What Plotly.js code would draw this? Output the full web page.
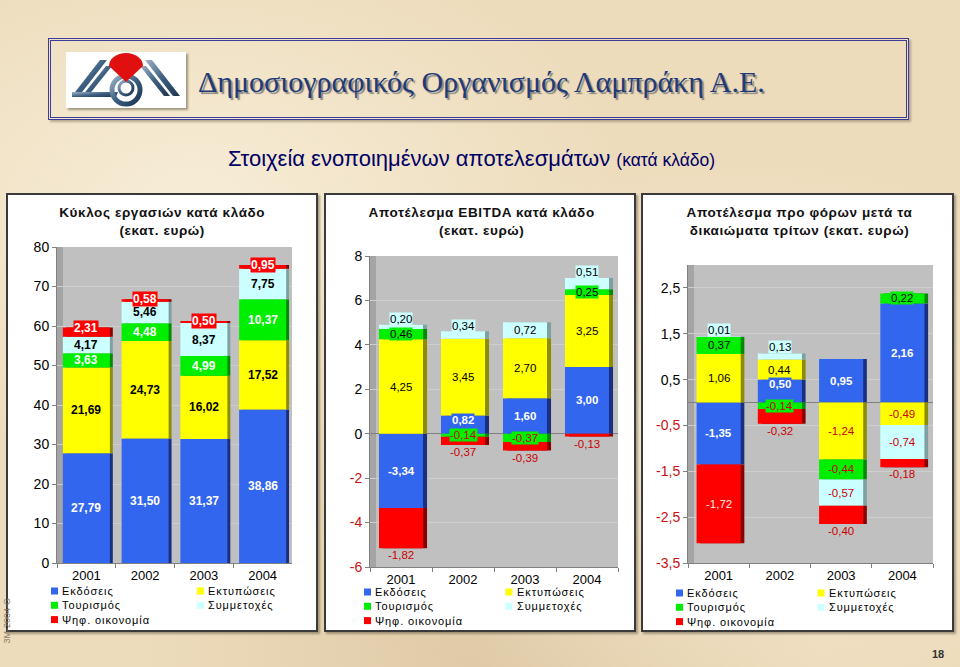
<html lang="el">
  <head>
    <meta charset="UTF-8" />
    <title>ΔΟΛ - Στοιχεία ενοποιημένων αποτελεσμάτων</title>
    <script src="https://cdn.plot.ly/plotly-3.0.1.min.js"></script>
    <style>
      body { margin: 0; }
      #page {
        position: relative; width: 960px; height: 667px; overflow: hidden;
        background-color: #eddcbc;
        background-image:
          radial-gradient(ellipse at 20% 30%, rgba(255,250,235,0.55), rgba(255,250,235,0) 40%),
          radial-gradient(ellipse at 75% 65%, rgba(255,248,230,0.5), rgba(255,248,230,0) 45%),
          radial-gradient(ellipse at 50% 95%, rgba(205,180,140,0.45), rgba(205,180,140,0) 50%);
        font-family: Arial, "Liberation Sans", sans-serif;
      }
      #head {
        position: absolute; left: 48px; top: 38px; width: 855px; height: 76px;
        border: 3px double #3b3b9c; box-shadow: 2px 2px 2px rgba(90,80,60,0.4);
      }
      #logo { position: absolute; left: 15px; top: 11px; box-shadow: 2px 2px 2px rgba(80,70,50,0.5); }
      #title {
        position: absolute; left: 147px; top: 24px; white-space: nowrap;
        font-family: "Liberation Serif", "DejaVu Serif", serif; font-size: 30px;
        color: #213a78; text-shadow: 2px 2px 1px rgba(110,110,110,0.8);
      }
      #sub { position: absolute; left: 228px; top: 146px; color: #000066; font-size: 22px; white-space: nowrap; }
      #sub small { font-size: 17.5px; }
      .panel {
        position: absolute; top: 193px; height: 435px; background: #fff;
        border: 2px solid #3a3a3a; box-shadow: 2px 2px 2px rgba(80,70,50,0.45);
      }
      #chart { position: absolute; left: 0; top: 0; width: 960px; height: 667px; }
      /* the slide's chart titles and legends are letter-spaced */
      #chart text[style*="lgspace"] { letter-spacing: 0.9px; }
      #chart text[style*="ttlspace"] { letter-spacing: 0.6px; }
      #stamp {
        position: absolute; left: 2px; top: 598px; writing-mode: vertical-rl; transform: rotate(180deg);
        font-size: 9px; color: #8a7b62; white-space: nowrap;
      }
      #pageno { position: absolute; left: 932px; top: 648px; font-size: 11px; font-weight: bold; color: #333; }
    </style>
  </head>
  <body>
    <div id="page">
      <div id="head">
        <svg id="logo" width="120" height="56" viewBox="0 0 120 56">
          <defs>
            <linearGradient id="steel" x1="0" y1="0" x2="1" y2="1">
              <stop offset="0" stop-color="#9fb4c8" />
              <stop offset="0.5" stop-color="#3d5f82" />
              <stop offset="1" stop-color="#1d3550" />
            </linearGradient>
          </defs>
          <rect width="120" height="56" fill="#fff" />
          <polygon points="6,44 34,8 41,8 13,44" fill="url(#steel)" />
          <polygon points="16,44 40,14 46,14 22,44" fill="url(#steel)" />
          <polygon points="6,40 52,40 50,45 6,45" fill="url(#steel)" />
          <polygon points="79,8 86,8 114,44 107,44" fill="url(#steel)" />
          <polygon points="74,14 80,14 104,44 98,44" fill="url(#steel)" />
          <circle cx="60" cy="38" r="14" fill="none" stroke="url(#steel)" stroke-width="5" />
          <circle cx="60" cy="36" r="7" fill="none" stroke="url(#steel)" stroke-width="3" />
          <path d="M43,14 A17,13 0 0 1 77,14 L60,30 Z" fill="#e01010" />
        </svg>
        <div id="title">Δημοσιογραφικός Οργανισμός Λαμπράκη Α.Ε.</div>
      </div>
      <div id="sub">Στοιχεία ενοποιημένων αποτελεσμάτων <small>(κατά κλάδο)</small></div>
      <div class="panel" style="left:6px; width:308px;"></div>
      <div class="panel" style="left:324px; width:308px;"></div>
      <div class="panel" style="left:641px; width:309px;"></div>
      <div id="stamp">3M-2004-G</div>
      <div id="pageno">18</div>
      <div id="chart"></div>
    </div>
    <script>
      const years = ['2001', '2002', '2003', '2004'];
      const seriesNames = ['Εκδόσεις', 'Εκτυπώσεις', 'Τουρισμός', 'Συμμετοχές', 'Ψηφ. οικονομία'];
      const seriesColors = ['#3366ee', '#ffff00', '#00ee00', '#ccffff', '#ff0000'];
      const sideColors = ['#1a2f80', '#8c8c00', '#008a00', '#7fa0a0', '#8a0000'];

      // Κύκλος εργασιών (εκατ. ευρώ)
      const salesEkdoseis = [27.79, 31.50, 31.37, 38.86];
      const salesEktyposeis = [21.69, 24.73, 16.02, 17.52];
      const salesTourismos = [3.63, 4.48, 4.99, 10.37];
      const salesSymmetoxes = [4.17, 5.46, 8.37, 7.75];
      const salesPsif = [2.31, 0.58, 0.50, 0.95];

      // EBITDA
      const ebitdaEkdoseis = [-3.34, 0.82, 1.60, 3.00];
      const ebitdaEktyposeis = [4.25, 3.45, 2.70, 3.25];
      const ebitdaTourismos = [0.46, -0.14, -0.37, 0.25];
      const ebitdaSymmetoxes = [0.20, 0.34, 0.72, 0.51];
      const ebitdaPsif = [-1.82, -0.37, -0.39, -0.13];

      // Αποτέλεσμα προ φόρων μετά τα δικαιώματα τρίτων
      const ebtEkdoseis = [-1.35, 0.50, 0.95, 2.16];
      const ebtEktyposeis = [1.06, 0.44, -1.24, -0.49];
      const ebtTourismos = [0.37, -0.14, -0.44, 0.22];
      const ebtSymmetoxes = [0.01, 0.13, -0.57, -0.74];
      const ebtPsif = [-1.72, -0.32, -0.40, -0.18];

      const salesTicks = [0, 10, 20, 30, 40, 50, 60, 70, 80];
      const ebitdaTicks = [-6, -4, -2, 0, 2, 4, 6, 8];
      const ebtTicks = [-3.5, -2.5, -1.5, -0.5, 0.5, 1.5, 2.5];

      const W = 960, H = 667;
      const px = x => x / W;
      const py = y => 1 - y / H;
      const fmt = v => v.toFixed(2).replace('.', ',');
      const baseFamily = 'Arial, Liberation Sans, sans-serif';

      const panels = [
        { key: '', kind: 'sales', series: [salesEkdoseis, salesEktyposeis, salesTourismos, salesSymmetoxes, salesPsif],
          ticks: salesTicks, range: [0, 80], xd: [57, 292], yd: [247, 563], barw: 0.8, side: 0.05,
          title: 'Κύκλος εργασιών κατά κλάδο<br>(εκατ. ευρώ)', cx: 162, legend: [54.5, 591, 146] },
        { key: '2', kind: 'ebitda', series: [ebitdaEkdoseis, ebitdaEktyposeis, ebitdaTourismos, ebitdaSymmetoxes, ebitdaPsif],
          ticks: ebitdaTicks, range: [-6, 8], xd: [370, 618], yd: [256, 567], barw: 0.71, side: 0.065,
          thinLift: 0.25, redInside: Infinity,
          title: 'Αποτέλεσμα EBITDA κατά κλάδο<br>(εκατ. ευρώ)', cx: 481, legend: [367.5, 592, 141.5] },
        { key: '3', kind: 'ebt', series: [ebtEkdoseis, ebtEktyposeis, ebtTourismos, ebtSymmetoxes, ebtPsif],
          ticks: ebtTicks, range: [-3.5, 3.0], xd: [688, 933], yd: [265, 563], barw: 0.72, side: 0.06,
          thinLift: 0.15, redInside: 1,
          title: 'Αποτέλεσμα προ φόρων μετά τα<br>δικαιώματα τρίτων (εκατ. ευρώ)', cx: 800, legend: [679.5, 593, 141.5] }
      ];
      const legendFont = 11, legendRow = 14.3;

      // manual stacking: positives upwards, negatives downwards, in series order
      function stackBases(series) {
        const pos = years.map(() => 0), neg = years.map(() => 0);
        return series.map(vals => vals.map((v, j) => {
          let b;
          if (v >= 0) { b = pos[j]; pos[j] += v; } else { b = neg[j]; neg[j] += v; }
          return b;
        }));
      }

      function labelFor(p, s, v, base) {
        const end = base + v;
        const unitPx = (p.yd[1] - p.yd[0]) / (p.range[1] - p.range[0]);
        const lab = { y: base + v / 2, color: '#000', bg: null, bold: false, yanchor: 'middle', size: 11.5 };
        if (p.kind === 'sales') {
          lab.bold = true; lab.size = 12;
          lab.color = (s === 0 || s === 2 || s === 4) ? '#fff' : '#000';
          if (s === 4) { lab.y = end; lab.bg = seriesColors[4]; }
          return lab;
        }
        lab.color = v < 0 ? '#cc0000' : '#000';
        if (s === 0) {
          lab.color = '#fff'; lab.bold = true;
          // short blue segment: label hugs the top of the bar
          if (v > 0 && v * unitPx < 25) { lab.y = end - 4 / unitPx; lab.bg = seriesColors[0]; }
        }
        if (s === 2) lab.bg = seriesColors[2];
        if (s === 3 && v > 0 && v < 0.6) { lab.y = end + p.thinLift; lab.bg = seriesColors[3]; }
        if (s === 4) {
          if (Math.abs(v) > p.redInside) lab.color = '#ffe8e8';
          else { lab.y = end; lab.yanchor = 'top'; }
        }
        return lab;
      }

      const data = [];
      const annotations = [];
      const shapes = [];
      const layout = {
        width: W, height: H, margin: { l: 0, r: 0, t: 0, b: 0 },
        paper_bgcolor: 'rgba(0,0,0,0)', plot_bgcolor: '#c0c0c0',
        barmode: 'overlay', showlegend: false,
        font: { family: baseFamily, color: '#000' }
      };

      panels.forEach(p => {
        const xa = 'x' + p.key, ya = 'y' + p.key;
        const bases = stackBases(p.series);

        layout['xaxis' + p.key] = {
          domain: [px(p.xd[0]), px(p.xd[1])], anchor: ya, type: 'category',
          categoryorder: 'array', categoryarray: years, range: [-0.5, 3.5],
          showline: true, linecolor: '#808080', ticks: 'outside', tickson: 'boundaries',
          ticklen: 4, tickcolor: '#808080', tickfont: { size: 13 }, showgrid: false, fixedrange: true
        };
        layout['yaxis' + p.key] = {
          domain: [py(p.yd[1]), py(p.yd[0])], anchor: xa, range: p.range,
          tickmode: 'array', tickvals: p.ticks,
          ticktext: p.ticks.map(t => {
            const s = String(t).replace('.', ',');
            return t < 0 ? '<span style="color:#cc1111">' + s + '</span>' : s;
          }),
          showline: true, linecolor: '#808080', ticks: 'outside', ticklen: 4, tickcolor: '#808080',
          tickfont: { size: 14 }, showgrid: true, gridcolor: '#cecece',
          zeroline: p.range[0] < 0, zerolinecolor: '#808080', zerolinewidth: 1, fixedrange: true
        };

        // 3D wall on the left of the plot area
        shapes.push({ type: 'rect', xref: 'paper', yref: 'paper', layer: 'below',
          x0: px(p.xd[0]), x1: px(p.xd[0] + 6), y0: py(p.yd[1]), y1: py(p.yd[0]),
          fillcolor: '#a4a4a4', line: { width: 0 } });

        // dark side faces first, then the bar faces
        p.series.forEach((vals, s) => {
          data.push({ type: 'bar', x: years, y: vals, base: bases[s], xaxis: xa, yaxis: ya,
            width: p.barw, offset: -p.barw / 2 + p.side, marker: { color: sideColors[s] },
            hoverinfo: 'skip' });
        });
        p.series.forEach((vals, s) => {
          data.push({ type: 'bar', name: seriesNames[s], x: years, y: vals, base: bases[s],
            xaxis: xa, yaxis: ya, width: p.barw, offset: -p.barw / 2,
            marker: { color: seriesColors[s] } });
          vals.forEach((v, j) => {
            const lab = labelFor(p, s, v, bases[s][j]);
            // category axis: annotation x is the category index
            annotations.push({ xref: xa, yref: ya, x: j, y: lab.y, xanchor: 'center', yanchor: lab.yanchor,
              text: lab.bold ? '<b>' + fmt(v) + '</b>' : fmt(v), showarrow: false,
              font: { size: lab.size, color: lab.color }, bgcolor: lab.bg || 'rgba(0,0,0,0)', borderpad: 0 });
          });
        });

        annotations.push({ xref: 'paper', yref: 'paper', x: px(p.cx), y: py(222),
          xanchor: 'center', yanchor: 'middle',
          text: '<b>' + p.title + '</b>', showarrow: false,
          font: { family: baseFamily + ', ttlspace', size: 13.5, color: '#111' } });

        // legend: two columns, one text block per column
        [0, 1].forEach(col => {
          const lx = p.legend[0] + col * p.legend[2];
          const names = seriesNames.filter((_, i) => i % 2 === col);
          seriesNames.forEach((name, i) => {
            if (i % 2 !== col) return;
            const ly = p.legend[1] + Math.floor(i / 2) * legendRow;
            shapes.push({ type: 'rect', xref: 'paper', yref: 'paper',
              x0: px(lx - 3.5), x1: px(lx + 3.5), y0: py(ly + 3.5), y1: py(ly - 3.5),
              fillcolor: seriesColors[i], line: { width: 0 } });
          });
          annotations.push({ xref: 'paper', yref: 'paper', x: px(lx + 6.5), y: py(p.legend[1] - legendRow / 2),
            xanchor: 'left', yanchor: 'top', align: 'left', text: names.join('<br>'),
            showarrow: false, borderpad: 0,
            font: { family: baseFamily + ', lgspace', size: legendFont, color: '#000' } });
        });
      });

      layout.annotations = annotations;
      layout.shapes = shapes;

      Plotly.newPlot('chart', data, layout, { displayModeBar: false, staticPlot: true });
    </script>
  </body>
</html>
